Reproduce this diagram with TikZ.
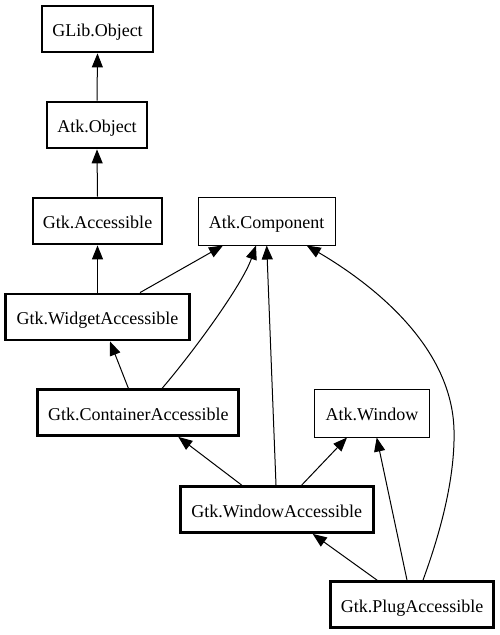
\documentclass[tikz,border=0pt]{standalone}
\usepackage{fontspec}
\setmainfont{Liberation Serif}
\usetikzlibrary{arrows.meta}
\begin{document}
\begin{tikzpicture}[x=1bp,y=-1bp,
  cls/.style={draw, line width=2.8bp, inner sep=0pt, minimum height=46bp, text height=15.5bp, text depth=0pt, font=\fontsize{18bp}{22bp}\selectfont},
  iface/.style={draw, line width=1bp, inner sep=0pt, minimum height=48bp, text height=15.5bp, text depth=0pt, font=\fontsize{18bp}{22bp}\selectfont},
  arr/.style={line width=1bp, -{Triangle[length=14bp,width=11bp]}}]
\useasboundingbox (0,0) rectangle (500,635);
\node[cls, minimum width=111bp] (go) at (97.5,29) {GLib.Object};
\node[cls, minimum width=100bp] (ao) at (97,125) {Atk.Object};
\node[cls, minimum width=129bp] (ga) at (97.5,221) {Gtk.Accessible};
\node[iface, minimum width=137bp] (comp) at (266.7,221) {Atk.Component};
\node[cls, minimum width=184bp] (wid) at (97.5,317) {Gtk.WidgetAccessible};
\node[cls, minimum width=201bp] (cont) at (138.3,412.5) {Gtk.ContainerAccessible};
\node[iface, minimum width=115bp] (win) at (372,413) {Atk.Window};
\node[cls, minimum width=193bp] (wa) at (276.7,509.5) {Gtk.WindowAccessible};
\node[cls, minimum width=163bp] (plug) at (412,604.5) {Gtk.PlugAccessible};

\draw[arr] (ao.north) -- (go.south);
\draw[arr] (ga.north) -- (ao.south);
\draw[arr] (wid.north) -- (ga.south);
\draw[arr] ([xshift=42.5bp]wid.north) -- ([xshift=-43.7bp]comp.south);
\draw[arr] ([xshift=-10bp]cont.north) -- ([xshift=12.5bp]wid.south);
\draw[arr] ([xshift=24bp]cont.north) .. controls +(30,-35) and +(-14,40) .. ([xshift=-10.7bp]comp.south);
\draw[arr] ([xshift=-35bp]wa.north) -- ([xshift=40bp]cont.south);
\draw[arr] ([xshift=-0.7bp]wa.north) -- (comp.south);
\draw[arr] ([xshift=25bp]wa.north) -- ([xshift=-25bp]win.south);
\draw[arr] ([xshift=-35bp]plug.north) -- ([xshift=36bp]wa.south);
\draw[arr] ([xshift=-5bp]plug.north) -- ([xshift=4.7bp]win.south);
\coordinate (mid) at (454,430);
\draw[arr] ([xshift=11bp]plug.north) .. controls +(22,-60) and +(1,40) .. (mid)
  .. controls +(-2,-80) and +(73,43) .. ([xshift=40bp]comp.south);
\end{tikzpicture}
\end{document}
